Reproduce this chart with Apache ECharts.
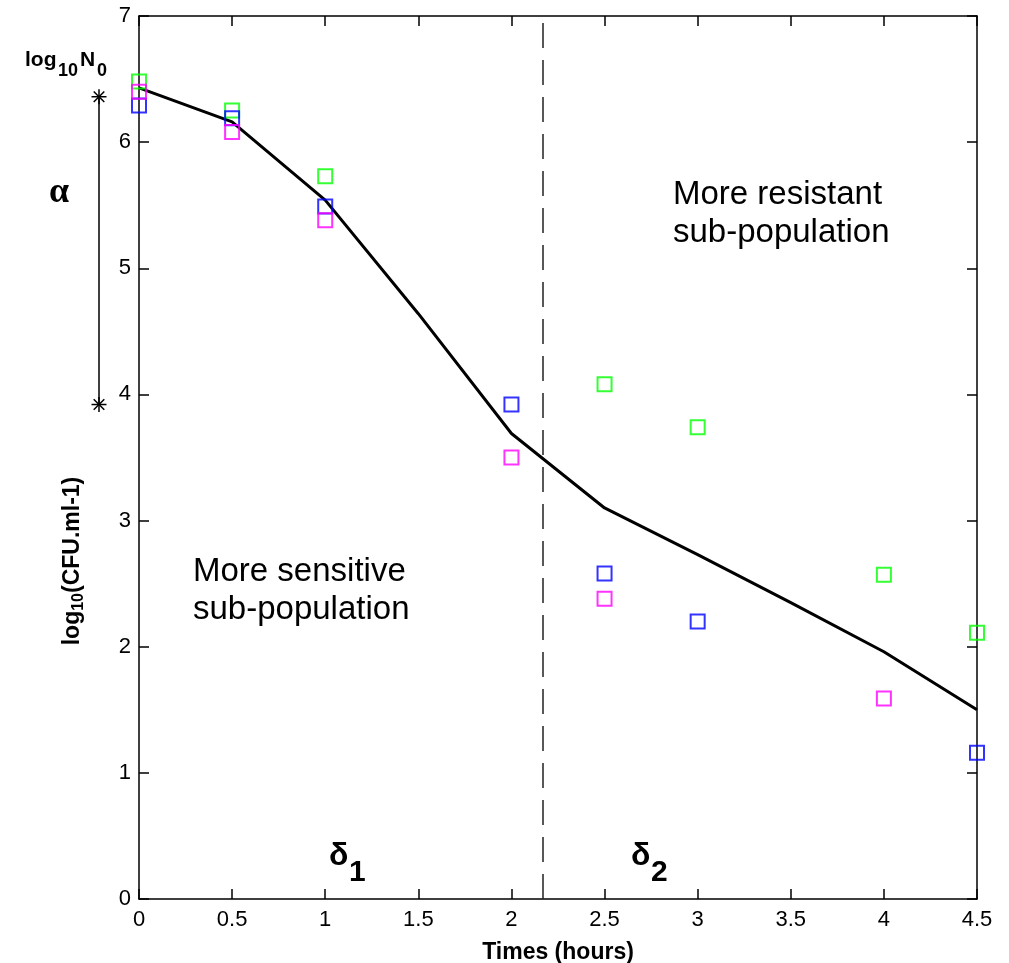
<!DOCTYPE html>
<html><head><meta charset="utf-8">
<script src="https://cdn.jsdelivr.net/npm/echarts@6/dist/echarts.min.js"></script>
<style>html,body{margin:0;padding:0;background:#fff}#c{width:1009px;height:963px}</style>
</head><body><div id="c"></div>
<script>
// ---- data ----
var greenObs = [[0, 6.48], [0.5, 6.25], [1, 5.73], [2.5, 4.08], [3, 3.74], [4, 2.57], [4.5, 2.11]];
var blueObs = [[0, 6.29], [0.5, 6.19], [1, 5.49], [2, 3.92], [2.5, 2.58], [3, 2.20], [4.5, 1.16]];
var magentaObs = [[0, 6.40], [0.5, 6.08], [1, 5.38], [2, 3.50], [2.5, 2.38], [4, 1.59]];
var modelFit = [[0, 6.43], [0.5, 6.16], [1, 5.54], [1.5, 4.64], [2, 3.69], [2.5, 3.10], [3, 2.73], [3.5, 2.35], [4, 1.96], [4.5, 1.50]];
var breakTime = 2.17;
var log10N0 = 6.36;
var alphaEnd = 3.92;
var xMin = 0, xMax = 4.5, xStep = 0.5;
var yMin = 0, yMax = 7, yStep = 1;
var xTitle = 'Times (hours)';
var annResistant = 'More resistant\nsub-population';
var annSensitive = 'More sensitive\nsub-population';

var chart = echarts.init(document.getElementById('c'), null, {renderer: 'canvas'});
var sans = '"Liberation Sans",Arial,sans-serif';
var axisCommon = {
  axisLine: {show: true, onZero: false, lineStyle: {color: '#000', width: 1.5}},
  axisTick: {show: true, inside: true, length: 10, lineStyle: {color: '#000', width: 1.5}},
  splitLine: {show: false}
};
var sq = 'path://M0,0L10,0L10,10L0,10Z';
function obsSeries(data, color) {
  return {type: 'scatter', data: data, symbol: sq, symbolSize: 14,
    itemStyle: {color: 'rgba(0,0,0,0)', borderColor: color, borderWidth: 2}, z: 5};
}
chart.setOption({
  animation: false,
  grid: {left: 139, right: 32, top: 16, bottom: 64, containLabel: false, outerBoundsMode: 'none'},
  xAxis: [
    Object.assign({type: 'value', min: xMin, max: xMax, interval: xStep,
      axisLabel: {color: '#000', fontFamily: sans, fontSize: 22, margin: 10},
      name: xTitle, nameLocation: 'middle', nameGap: 42,
      nameTextStyle: {color: '#000', fontFamily: sans, fontWeight: 'bold', fontSize: 23}}, axisCommon),
    Object.assign({type: 'value', position: 'top', min: xMin, max: xMax, interval: xStep,
      axisLabel: {show: false}}, axisCommon)
  ],
  yAxis: [
    Object.assign({type: 'value', min: yMin, max: yMax, interval: yStep,
      axisLabel: {color: '#000', fontFamily: sans, fontSize: 22, margin: 8}}, axisCommon),
    Object.assign({type: 'value', position: 'right', min: yMin, max: yMax, interval: yStep,
      axisLabel: {show: false}}, axisCommon)
  ],
  series: [
    {type: 'line', data: modelFit, symbol: 'none', lineStyle: {color: '#000', width: 3}, z: 3},
    obsSeries(greenObs, '#00ff00'),
    obsSeries(blueObs, '#0000ff'),
    obsSeries(magentaObs, '#ff00ff'),
    {type: 'line', data: [], symbol: 'none',
      markLine: {silent: true, symbol: 'none', label: {show: false},
        lineStyle: {color: '#222', width: 1.5, type: [25, 12]},
        data: [{xAxis: breakTime}]}}
  ]
});

function px(x, y) { return chart.convertToPixel({xAxisIndex: 0, yAxisIndex: 0}, [x, y]); }
var pTop = px(0, log10N0), pBot = px(0, alphaEnd);
var barX = 99;
function star(cx, cy) {
  var r = 7.5, els = [];
  for (var i = 0; i < 4; i++) {
    var a = i * Math.PI / 4;
    els.push({type: 'line', shape: {x1: cx - r * Math.cos(a), y1: cy - r * Math.sin(a), x2: cx + r * Math.cos(a), y2: cy + r * Math.sin(a)},
      style: {stroke: '#000', lineWidth: 1.5}});
  }
  return els;
}
// text with baseline at by (Liberation Sans: em middle ~0.3465*f above baseline)
function txt(str, x, by, f, weight, family) {
  return {type: 'text', x: x, y: by - 0.3465 * f, style: {text: str, fill: '#000',
    font: (weight || 'normal') + ' ' + f + 'px ' + (family || sans), textVerticalAlign: 'middle'}};
}
var g = [
  {type: 'line', shape: {x1: barX, y1: pTop[1], x2: barX, y2: pBot[1]}, style: {stroke: '#000', lineWidth: 1.5}},
  txt('log', 25, 67, 21, 'bold'),
  txt('10', 58, 77, 18, 'bold'),
  txt('N', 80, 67, 21, 'bold'),
  txt('0', 97, 77, 18, 'bold'),
  txt('α', 49, 205, 36, 'bold', '"Liberation Serif","Times New Roman",serif'),
  txt('δ', 329, 867, 32, 'bold'),
  txt('1', 349, 883, 30, 'bold'),
  txt('δ', 631, 867, 32, 'bold'),
  txt('2', 651, 883, 30, 'bold'),
  {type: 'text', left: 673, top: 176, style: {text: annResistant, fill: '#000', font: '33px ' + sans, lineHeight: 38}},
  {type: 'text', left: 193, top: 553, style: {text: annSensitive, fill: '#000', font: '33px ' + sans, lineHeight: 38}},
  {type: 'text', x: 74, y: 561, rotation: Math.PI / 2, style: {
    text: '{b|log}{s|10}{b|(CFU.ml-1)}', textAlign: 'center', textVerticalAlign: 'middle', rich: {
      b: {fill: '#000', fontFamily: sans, fontWeight: 'bold', fontSize: 23, verticalAlign: 'top', lineHeight: 26},
      s: {fill: '#000', fontFamily: sans, fontWeight: 'bold', fontSize: 16, verticalAlign: 'bottom', lineHeight: 16, padding: [14, 0, 0, 0]}
    }}}
].concat(star(barX, pTop[1])).concat(star(barX, pBot[1]));
chart.setOption({graphic: g});
</script></body></html>
